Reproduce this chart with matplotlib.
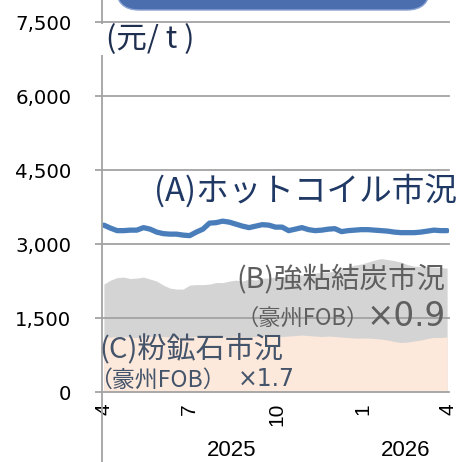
import matplotlib

matplotlib.use("Agg")
import matplotlib.pyplot as plt
import matplotlib.transforms as mtransforms
from matplotlib.patches import FancyBboxPatch, Rectangle
from matplotlib.lines import Line2D
import pandas as pd

# ---------------------------------------------------------------------------
# data (weekly, 2025-04 .. 2026-03), yuan / t
# ---------------------------------------------------------------------------
start_date = "2025-04-01"
n_weeks = 53

hot_coil = [
    3382, 3322, 3271, 3271, 3281, 3281, 3332, 3301, 3241, 3210,
    3200, 3200, 3180, 3170, 3241, 3301, 3423, 3433, 3463, 3443,
    3403, 3362, 3332, 3362, 3392, 3382, 3342, 3342, 3271, 3301,
    3332, 3291, 3271, 3281, 3301, 3311, 3251, 3271, 3281, 3291,
    3291, 3281, 3271, 3261, 3241, 3230, 3230, 3230, 3241, 3261,
    3281, 3271, 3271,
]
coking_coal = [
    2187, 2268, 2319, 2329, 2299, 2309, 2329, 2289, 2248, 2167,
    2106, 2086, 2086, 2167, 2177, 2177, 2187, 2218, 2218, 2248,
    2268, 2248, 2289, 2268, 2309, 2309, 2329, 2329, 2349, 2349,
    2370, 2390, 2410, 2430, 2430, 2451, 2491, 2532, 2572, 2593,
    2633, 2674, 2704, 2684, 2663, 2633, 2582, 2552, 2542, 2542,
    2532, 2522, 2511,
]
iron_ore = [
    1114, 1114, 1124, 1124, 1114, 1104, 1114, 1124, 1134, 1124,
    1114, 1114, 1104, 1114, 1124, 1134, 1124, 1114, 1114, 1124,
    1134, 1124, 1114, 1124, 1134, 1144, 1134, 1124, 1134, 1144,
    1154, 1144, 1134, 1124, 1134, 1124, 1114, 1104, 1094, 1094,
    1094, 1084, 1073, 1053, 1023, 1003, 1013, 1033, 1053, 1084,
    1104, 1104, 1114,
]

y_ticks = [0, 1500, 3000, 4500, 6000, 7500]
x_ticks = ["2025-04-01", "2025-07-01", "2025-10-01", "2026-01-01", "2026-04-01"]
x_tick_labels = ["4", "7", "10", "1", "4"]
years = [("2025", "2025-08-15"), ("2026", "2026-02-15")]

dates = pd.date_range(start_date, periods=n_weeks, freq="7D")

# ---------------------------------------------------------------------------
# style
# ---------------------------------------------------------------------------
W, H = 460, 462
cjk = ["Noto Sans CJK JP", "DejaVu Sans"]
grid_col = "#a3a3a3"


def fx(x):
    return x / W


def fy(y):
    return 1 - y / H


fig = plt.figure(figsize=(W / 100, H / 100), dpi=100)
ax = fig.add_axes([fx(102), fy(392), (449 - 102) / W, (392 - 22) / H])

ax.fill_between(dates, 0, coking_coal, color="#d4d4d4", lw=0, zorder=1)
ax.fill_between(dates, 0, iron_ore, color="#fde9dc", lw=0, zorder=2)
ax.plot(dates, hot_coil, color="#4a7ebb", lw=3.8, solid_capstyle="round", zorder=5)

ax.set_ylim(0, 7500)
ax.set_xlim(pd.Timestamp(start_date) - pd.Timedelta(days=2),
            pd.Timestamp(x_ticks[-1]) + pd.Timedelta(days=1))
ax.set_yticks(y_ticks)
ax.set_yticklabels([f"{v:,}" for v in y_ticks], fontsize=14.2, family="DejaVu Sans")
ax.tick_params(axis="y", length=5, width=1.3, color=grid_col, pad=17)
ax.yaxis.grid(True, color=grid_col, lw=1.3)
for gl in ax.get_ygridlines():
    gl.set_clip_on(False)
    gl.set_zorder(3)
ax.set_axisbelow(False)

ax.set_xticks(pd.to_datetime(x_ticks))
ax.set_xticklabels(x_tick_labels, rotation=90, fontsize=15, family="Liberation Sans",
                   va="top", ha="center")
ax.tick_params(axis="x", length=0, pad=8)
for s in ax.spines.values():
    s.set_visible(False)
ax.patch.set_visible(False)

# year labels under the month labels
year_tr = mtransforms.blended_transform_factory(ax.transData, fig.transFigure)
for label, d in years:
    ax.text(pd.Timestamp(d), fy(451), label, transform=year_tr,
            fontsize=16, family="Liberation Sans", ha="center", va="center")

# left axis line running the full height, broken by the unit label
fig.add_artist(Line2D([fx(102), fx(102)], [0, 1], color=grid_col, lw=1.3, zorder=4))
fig.add_artist(Rectangle((fx(100), fy(55)), fx(110), (55 - 24) / H,
                         facecolor="white", edgecolor="none", zorder=6))
fig.text(fx(106), fy(40), "(元/ t )", fontsize=22, family=cjk, color="#1f2f4f",
         ha="left", va="center", zorder=7)

# title banner cut at the top edge
fig.add_artist(FancyBboxPatch((fx(116), fy(10)), fx(430 - 116), 60 / H,
                              boxstyle="round,pad=0,rounding_size=0.05",
                              facecolor="#4a6eae", edgecolor="#8aa3d4", lw=1.0,
                              zorder=7))

# series labels
fig.text(fx(457), fy(191), "(A)ホットコイル市況", fontsize=23.5, family=cjk,
         color="#1f3864", ha="right", va="center", zorder=8)
fig.text(fx(445), fy(280), "(B)強粘結炭市況", fontsize=20.5, family=cjk,
         color="#5f5f5f", ha="right", va="center", zorder=8)
fig.text(fx(446), fy(317), "×0.9", fontsize=23.5, family="DejaVu Sans",
         color="#5f5f5f", ha="right", va="center", zorder=8)
fig.text(fx(369), fy(318), "（豪州FOB）", fontsize=16, family=cjk,
         color="#5f5f5f", ha="right", va="center", zorder=8)
fig.text(fx(99), fy(349), "(C)粉鉱石市況", fontsize=21, family=cjk,
         color="#44546a", ha="left", va="center", zorder=8)
fig.text(fx(89), fy(380), "（豪州FOB）", fontsize=16.5, family=cjk,
         color="#44546a", ha="left", va="center", zorder=8)
fig.text(fx(238), fy(379), "×1.7", fontsize=17, family="DejaVu Sans",
         color="#44546a", ha="left", va="center", zorder=8)

fig.savefig("out.png", dpi=100, facecolor="white")
